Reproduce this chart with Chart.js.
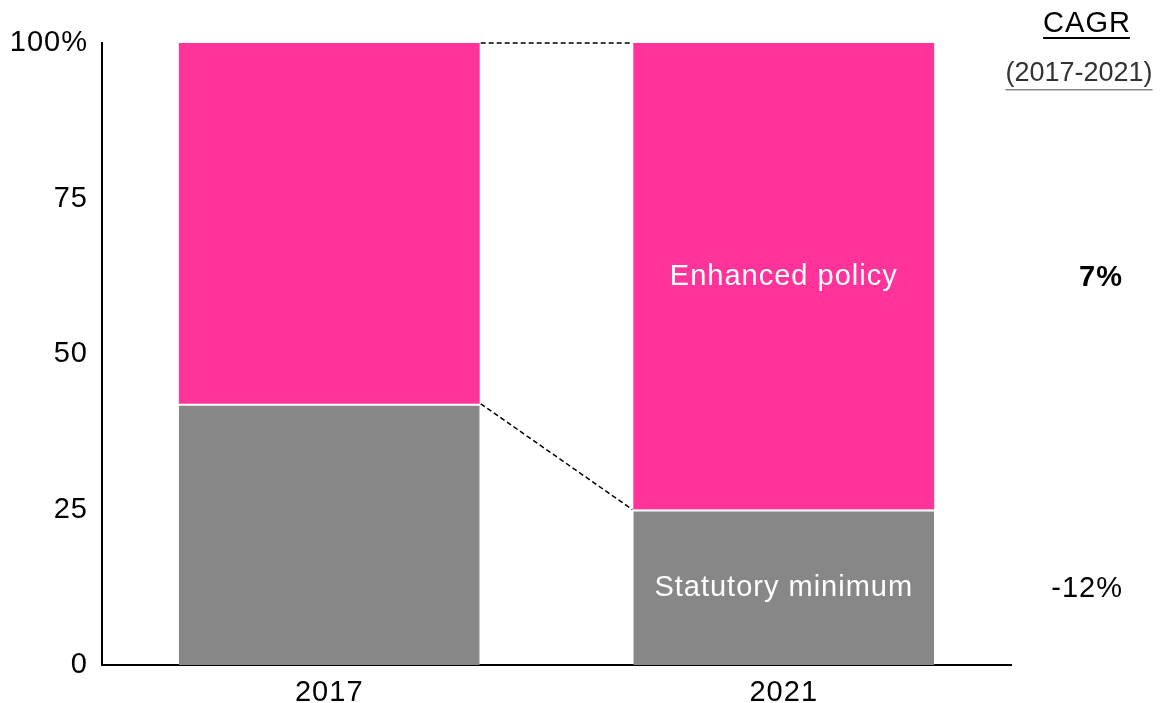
<!DOCTYPE html>
<html>
<head>
<meta charset="utf-8">
<script src="https://cdn.jsdelivr.net/npm/chart.js@4/dist/chart.umd.min.js"></script>
<style>
  html, body { margin: 0; padding: 0; background: #fff; }
  #wrap { width: 1163px; height: 703px; }
</style>
</head>
<body>
<div id="wrap"><canvas id="chart"></canvas></div>
<script>
const years = ["2017", "2021"];
const statutoryShare = [42, 25];
const enhancedShare = [58, 75];
const yTickLabels = { 0: "0", 25: "25", 50: "50", 75: "75", 100: "100%" };
const segmentNames = ["Statutory minimum", "Enhanced policy"];
const cagrValues = ["-12%", "7%"];
const cagrTitle = "CAGR";
const cagrPeriod = "(2017-2021)";

const FONT = "'Liberation Sans', Arial, sans-serif";
const SIZE = 29;
const PINK = "#FF3399";
const GREY = "#878787";

// canvas state is reset on resize, so spacing is applied before each pass
const spacing = {
    id: "spacing",
    beforeLayout(chart) { chart.ctx.letterSpacing = "1px"; },
    beforeDraw(chart) { chart.ctx.letterSpacing = "1px"; }
};

// dashed connectors between the two stacks
const connectors = {
    id: "connectors",
    afterDatasetsDraw(chart) {
        const ctx = chart.ctx;
        ctx.save();
        ctx.strokeStyle = "#000";
        ctx.lineWidth = 1.5;
        ctx.setLineDash([5, 3]);
        [0, 1].forEach(ds => {
            const bars = chart.getDatasetMeta(ds).data;
            const a = bars[0], b = bars[1];
            ctx.beginPath();
            ctx.moveTo(a.x + a.width / 2 + 1, a.y);
            ctx.lineTo(b.x - b.width / 2 - 1, b.y);
            ctx.stroke();
        });
        ctx.restore();
    }
};

// segment names inside the last bar, CAGR column on the right
const annotations = {
    id: "annotations",
    afterDraw(chart) {
        const ctx = chart.ctx;
        const area = chart.chartArea;
        const last = years.length - 1;
        ctx.save();
        ctx.letterSpacing = "1px";
        ctx.textBaseline = "middle";

        [0, 1].forEach(ds => {
            const bar = chart.getDatasetMeta(ds).data[last];
            const cy = (bar.y + bar.base) / 2 + 1;
            ctx.font = SIZE + "px " + FONT;
            ctx.fillStyle = "#fff";
            ctx.textAlign = "center";
            ctx.fillText(segmentNames[ds], bar.x, cy);

            ctx.fillStyle = "#000";
            ctx.textAlign = "right";
            ctx.font = (ds === 1 ? "bold " : "") + SIZE + "px " + FONT;
            ctx.fillText(cagrValues[ds], area.right + 112, cy + 1);
        });

        const hx = area.right + 76;
        ctx.textAlign = "center";
        ctx.fillStyle = "#000";
        ctx.font = SIZE + "px " + FONT;
        ctx.fillText(cagrTitle, hx, 24);
        let w = ctx.measureText(cagrTitle).width;
        ctx.fillRect(hx - w / 2, 37, w - 1, 2);

        const px = area.right + 68;
        ctx.letterSpacing = "0px";
        ctx.font = "27px " + FONT;
        ctx.fillStyle = "#333";
        ctx.fillText(cagrPeriod, px, 74);
        w = ctx.measureText(cagrPeriod).width;
        ctx.fillStyle = "#888";
        ctx.fillRect(px - w / 2, 89, w, 1.5);
        ctx.restore();
    }
};

new Chart(document.getElementById("chart"), {
    type: "bar",
    data: {
        labels: years,
        datasets: [
            {
                label: segmentNames[0],
                data: statutoryShare,
                backgroundColor: GREY,
                borderColor: "#fff",
                borderWidth: { top: 2, left: 0, right: 0, bottom: 0 },
                borderSkipped: false
            },
            {
                label: segmentNames[1],
                data: enhancedShare,
                backgroundColor: PINK,
                borderWidth: 0
            }
        ]
    },
    options: {
        responsive: true,
        maintainAspectRatio: false,
        animation: false,
        events: [],
        categoryPercentage: 1,
        barPercentage: 0.662,
        layout: { padding: { top: 43, right: 152, left: 0, bottom: 0 } },
        plugins: {
            legend: { display: false },
            tooltip: { enabled: false }
        },
        scales: {
            x: {
                stacked: true,
                grid: { display: false },
                border: { color: "#000", width: 2 },
                ticks: { color: "#000", font: { family: FONT, size: SIZE }, padding: 3 },
                afterFit(scale) { scale.height = 38; }
            },
            y: {
                stacked: true,
                min: 0,
                max: 100,
                grid: { display: false },
                border: { color: "#000", width: 2 },
                ticks: {
                    stepSize: 25,
                    color: "#000",
                    padding: 6,
                    font: { family: FONT, size: SIZE },
                    callback: v => yTickLabels[v]
                },
                afterFit(scale) { scale.width = 102; }
            }
        }
    },
    plugins: [spacing, connectors, annotations]
});
</script>
</body>
</html>
